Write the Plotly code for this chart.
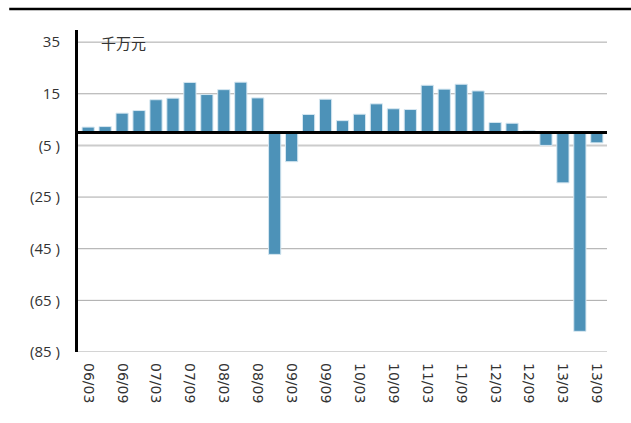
import plotly.graph_objects as go

categories = ["06/03","06/06","06/09","06/12","07/03","07/06","07/09","07/12",
              "08/03","08/06","08/09","08/12","09/03","09/06","09/09","09/12",
              "10/03","10/06","10/09","10/12","11/03","11/06","11/09","11/12",
              "12/03","12/06","12/09","12/12","13/03","13/06","13/09"]
values = [2.1, 2.3, 7.5, 8.5, 12.7, 13.3, 19.4, 14.7, 16.6, 19.5, 13.4,
          -47.2, -11.3, 7.0, 12.9, 4.6, 7.1, 11.1, 9.2, 8.9, 18.3, 16.8,
          18.7, 16.1, 3.9, 3.6, 0.7, -5.0, -19.5, -77.0, -4.0]
tick_labels = categories[::2]
y_ticks = [35, 15, -5, -25, -45, -65, -85]
y_tick_text = ["35", "15", "(5 )", "(25 )", "(45 )", "(65 )", "(85 )"]
unit = "千万元"

fig = go.Figure()
fig.add_trace(go.Bar(
    x=categories, y=values,
    marker=dict(color="#4d92b8", line=dict(color="#d6e7f1", width=1)),
    width=0.72,
))

shapes = []
for t in y_ticks:
    if t == -5:
        line = dict(color="#cccccc", width=2)
    else:
        line = dict(color="#a8a8a8", width=1)
    shapes.append(dict(type="line", xref="paper", yref="y", x0=0, x1=1, y0=t, y1=t,
                       line=line, layer="below"))
# zero line
shapes.append(dict(type="line", xref="paper", yref="y", x0=0, x1=1, y0=0, y1=0,
                   line=dict(color="black", width=3)))
# top decorative line
shapes.append(dict(type="line", xref="paper", yref="paper", x0=-0.13, x1=1.05,
                   y0=1.065, y1=1.065, line=dict(color="black", width=2.5)))

fig.update_layout(
    width=631, height=423,
    margin=dict(l=78, r=24, t=30, b=71),
    paper_bgcolor="white", plot_bgcolor="white",
    showlegend=False,
    shapes=shapes,
    annotations=[dict(text=unit, xref="paper", yref="paper", x=0.04, y=1.0,
                      xanchor="left", yanchor="top", showarrow=False,
                      font=dict(family="Noto Sans CJK SC", size=15, color="#333333"))],
    xaxis=dict(
        type="category", categoryorder="array", categoryarray=categories,
        tickmode="array", tickvals=tick_labels, ticktext=tick_labels,
        tickangle=90, showgrid=False, showline=False, ticks="",
        ticklabelstandoff=10,
        tickfont=dict(family="DejaVu Sans", size=14, color="#333333"),
        range=[-0.6, len(categories) - 0.4],
    ),
    yaxis=dict(
        range=[-85, 39.7], tickmode="array", tickvals=y_ticks, ticktext=y_tick_text,
        showgrid=False,
        zeroline=False, showline=True, linecolor="black", linewidth=3,
        ticks="", ticklen=0, ticklabelstandoff=12,
        tickfont=dict(family="Open Sans", size=15, color="#333333"),
    ),
)

fig.write_html("out.html", config={"displayModeBar": False},
               post_script="document.body.style.margin='0';")
